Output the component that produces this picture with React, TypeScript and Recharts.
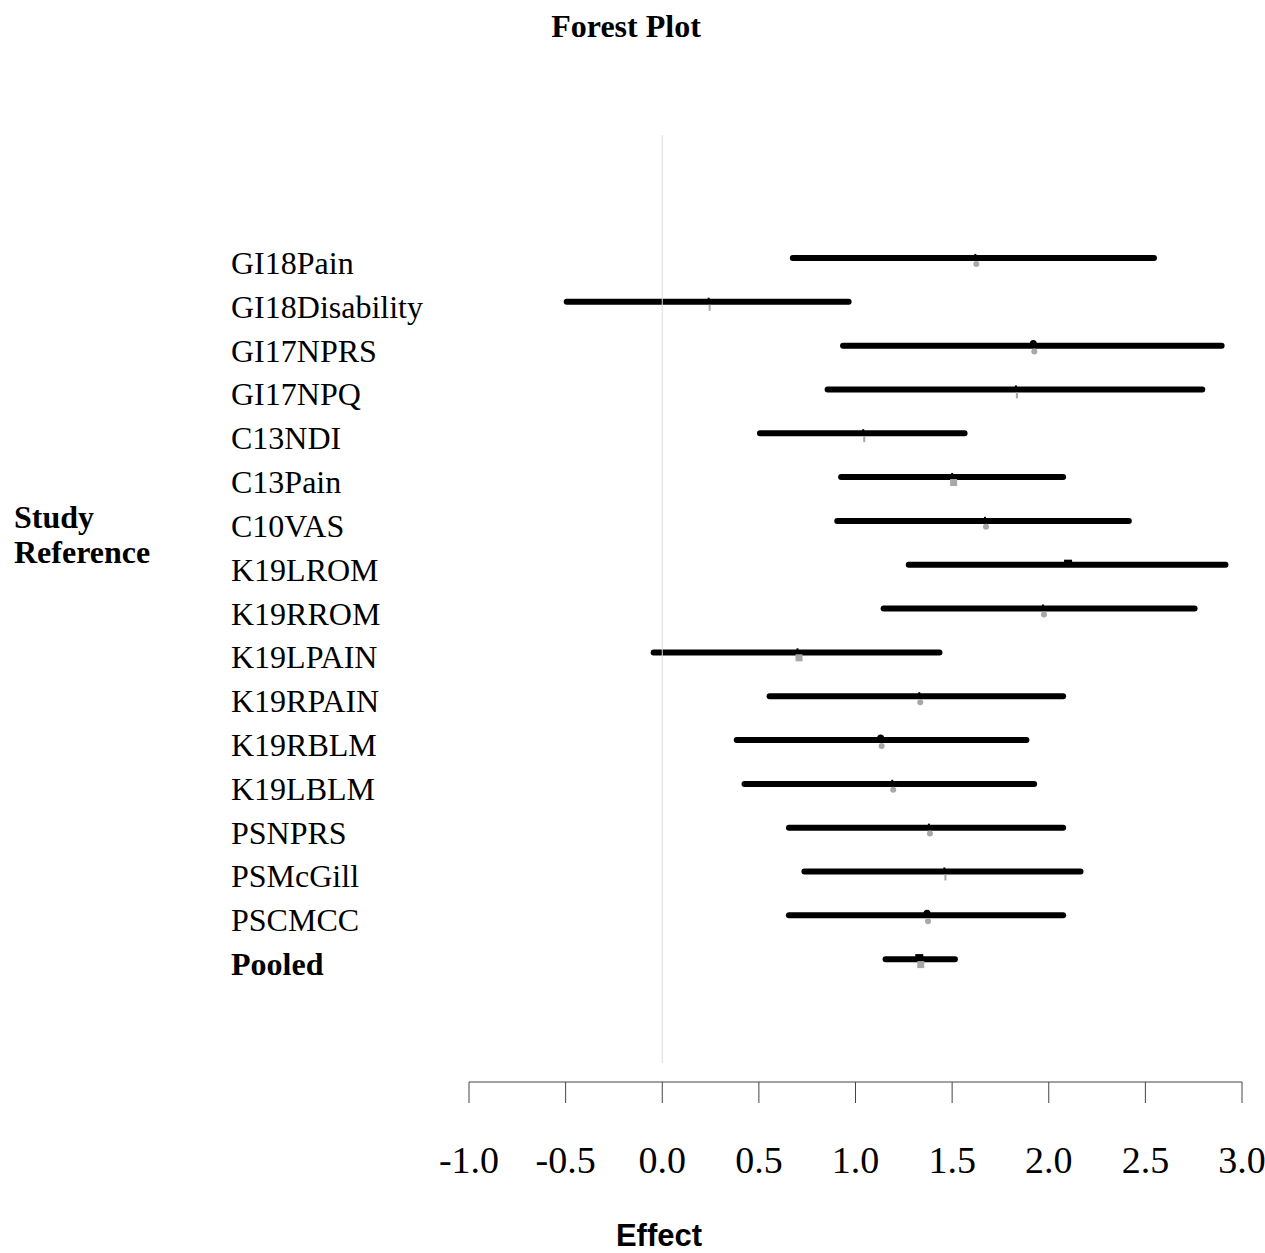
import {
  ComposedChart,
  Bar,
  Scatter,
  XAxis,
  YAxis,
  ReferenceLine,
} from "recharts";

const STUDIES = [
  "GI18Pain",
  "GI18Disability",
  "GI17NPRS",
  "GI17NPQ",
  "C13NDI",
  "C13Pain",
  "C10VAS",
  "K19LROM",
  "K19RROM",
  "K19LPAIN",
  "K19RPAIN",
  "K19RBLM",
  "K19LBLM",
  "PSNPRS",
  "PSMcGill",
  "PSCMCC",
  "Pooled",
];

const LOWER = [0.66, -0.51, 0.92, 0.84, 0.49, 0.91, 0.89, 1.26, 1.13, -0.06, 0.54, 0.37, 0.41, 0.64, 0.72, 0.64, 1.14];
const UPPER = [2.56, 0.98, 2.91, 2.81, 1.58, 2.09, 2.43, 2.93, 2.77, 1.45, 2.09, 1.9, 1.94, 2.09, 2.18, 2.09, 1.53];
const EFFECT = [1.62, 0.24, 1.92, 1.83, 1.04, 1.5, 1.67, 2.1, 1.97, 0.7, 1.33, 1.13, 1.19, 1.38, 1.46, 1.37, 1.33];

const X_TICKS = [-1, -0.5, 0, 0.5, 1, 1.5, 2, 2.5, 3];

// marker styles per row (grey symbol below the line, black symbol on it)
const GREY_MARK = ["circle", "tick", "circle", "tick", "tick", "square", "circle", "none", "circle", "square", "circle", "circle", "circle", "circle", "tick", "circle", "square"];
const BLACK_MARK = ["tick", "tick", "dot", "tick", "tick", "tick", "tick", "square", "tick", "tick", "tick", "dot", "tick", "tick", "tick", "dot", "square"];

const data = STUDIES.map((name, i) => ({
  name,
  range: [LOWER[i], UPPER[i]],
  est: EFFECT[i],
}));

const SERIF = '"Liberation Serif", "Times New Roman", serif';
const SANS = '"Liberation Sans", Arial, sans-serif';
const GREY = "#a8a8a8";

const StudyTick = ({ y, payload }: any) => {
  const bold = payload.value === "Pooled";
  return (
    <text
      x={231}
      y={y}
      dy={16}
      textAnchor="start"
      fontFamily={SERIF}
      fontSize={32}
      fontWeight={bold ? "bold" : "normal"}
      fill="#000"
    >
      {payload.value}
    </text>
  );
};

const EffectTick = ({ x, y, payload }: any) => (
  <text x={x} y={y} dy={68} textAnchor="middle" fontFamily={SERIF} fontSize={38} fill="#000">
    {Number(payload.value).toFixed(1)}
  </text>
);

const Marker = ({ cx, cy, payload }: any) => {
  const i = STUDIES.indexOf(payload.name);
  const grey = GREY_MARK[i];
  const black = BLACK_MARK[i];
  return (
    <g>
      {black === "tick" && <rect x={cx - 1} y={cy - 4} width={2} height={5} fill="#000" />}
      {black === "dot" && <circle cx={cx} cy={cy - 2} r={3.5} fill="#000" />}
      {black === "square" && <rect x={cx - 4} y={cy - 5} width={8} height={7} fill="#000" />}
      {grey === "circle" && <circle cx={cx + 1} cy={cy + 6} r={3} fill={GREY} />}
      {grey === "square" && <rect x={cx - 2} y={cy + 2} width={7} height={7} fill={GREY} />}
      {grey === "tick" && <rect x={cx} y={cy + 3} width={2} height={6} fill={GREY} />}
    </g>
  );
};

const RefLine = (p: any) => {
  const top = Math.min(p.y1, p.y2);
  const bottom = Math.max(p.y1, p.y2);
  return <line x1={p.x1} x2={p.x2} y1={top} y2={bottom - 19} stroke="#dcdcdc" strokeWidth={1} />;
};

export default function App() {
  return (
    <div style={{ position: "absolute", left: 0, top: 0, width: 1265, height: 1253, background: "#fff", overflow: "hidden" }}>
      <div
        style={{
          position: "absolute",
          left: 0,
          top: 11,
          width: 1252,
          textAlign: "center",
          fontFamily: SERIF,
          fontWeight: "bold",
          fontSize: 32,
          lineHeight: "31px",
        }}
      >
        Forest Plot
      </div>
      <div
        style={{
          position: "absolute",
          left: 14,
          top: 500,
          fontFamily: SERIF,
          fontWeight: "bold",
          fontSize: 32,
          lineHeight: "35px",
        }}
      >
        Study
        <br />
        Reference
      </div>
      <div
        style={{
          position: "absolute",
          left: 559,
          top: 1224,
          width: 200,
          textAlign: "center",
          fontFamily: SANS,
          fontWeight: "bold",
          fontSize: 31,
          lineHeight: "24px",
        }}
      >
        Effect
      </div>
      <div style={{ position: "absolute", left: 0, top: 0 }}>
        <ComposedChart
          width={1265}
          height={1200}
          data={data}
          layout="vertical"
          margin={{ top: 135, right: 23, bottom: 0, left: 0 }}
        >
          <XAxis
            type="number"
            domain={[-1, 3]}
            ticks={X_TICKS}
            allowDataOverflow
            height={118}
            tickSize={21}
            axisLine={{ stroke: "#444" }}
            tickLine={{ stroke: "#444" }}
            tick={<EffectTick />}
            interval={0}
          />
          <YAxis
            type="category"
            dataKey="name"
            width={469}
            axisLine={false}
            tickLine={false}
            padding={{ top: 101, bottom: 101 }}
            tick={<StudyTick />}
            interval={0}
          />
          <ReferenceLine x={0} shape={<RefLine />} />
          <Bar dataKey="range" barSize={6} radius={3} fill="#000" isAnimationActive={false} />
          <Scatter dataKey="est" shape={<Marker />} isAnimationActive={false} />
        </ComposedChart>
      </div>
    </div>
  );
}
